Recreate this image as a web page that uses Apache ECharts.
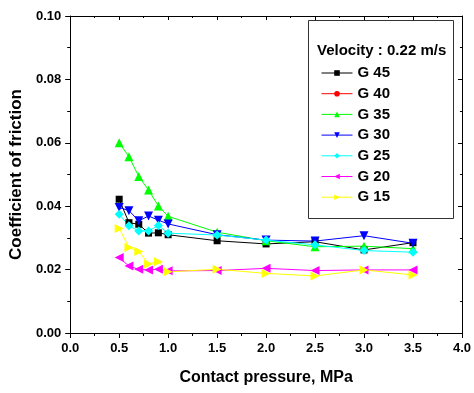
<!DOCTYPE html>
<html><head><meta charset="utf-8">
<script src="https://cdn.jsdelivr.net/npm/echarts@6/dist/echarts.min.js"></script>
<style>html,body{margin:0;padding:0;background:#fff}#c{width:474px;height:393px}</style>
</head><body><div id="c"></div>
<script>
const pressure = [0.5, 0.6, 0.7, 0.8, 0.9, 1.0, 1.5, 2.0, 2.5, 3.0, 3.5];
const g45 = [0.0422, 0.0348, 0.0343, 0.0315, 0.0316, 0.0310, 0.0291, 0.0281, 0.0288, 0.0262, 0.0285];
const g40 = [];
const g35 = [0.0600, 0.0556, 0.0494, 0.0451, 0.0401, 0.0368, 0.0318, 0.0291, 0.0272, 0.0274, 0.0266];
const g30 = [0.0396, 0.0386, 0.0354, 0.0369, 0.0356, 0.0344, 0.0310, 0.0293, 0.0290, 0.0307, 0.0283];
const g25 = [0.0375, 0.0338, 0.0322, 0.0322, 0.0339, 0.0315, 0.0309, 0.0293, 0.0278, 0.0260, 0.0255];
const g20 = [0.0238, 0.0211, 0.0201, 0.0199, 0.0201, 0.0196, 0.0197, 0.0204, 0.0197, 0.0199, 0.0199];
const g15 = [0.0330, 0.0270, 0.0257, 0.0218, 0.0225, 0.0193, 0.0201, 0.0188, 0.0180, 0.0199, 0.0183];
const xTicks = [0.0, 0.5, 1.0, 1.5, 2.0, 2.5, 3.0, 3.5, 4.0];
const yTicks = [0.00, 0.02, 0.04, 0.06, 0.08, 0.10];
const legendTitle = 'Velocity : 0.22 m/s';

const FONT = '"Liberation Sans", Arial, sans-serif';
const pair = vals => vals.map((v, i) => [pressure[i], v]);
const defs = [
  {name: 'G 45', data: g45, color: '#000000', symbol: 'rect', size: 7},
  {name: 'G 40', data: g40, color: '#ff0000', symbol: 'circle', size: 8},
  {name: 'G 35', data: g35, color: '#00ff00', symbol: 'triangle', size: 9},
  {name: 'G 30', data: g30, color: '#0000ff', symbol: 'path://M0,0 L10,0 L5,9 Z', size: 9},
  {name: 'G 25', data: g25, color: '#00ffff', symbol: 'diamond', size: 9},
  {name: 'G 20', data: g20, color: '#ff00ff', symbol: 'path://M9,0 L9,10 L0,5 Z', size: 9},
  {name: 'G 15', data: g15, color: '#ffff00', symbol: 'path://M0,0 L0,10 L9,5 Z', size: 9}
];

const chart = echarts.init(document.getElementById('c'), null, {renderer: 'canvas'});
const axisLbl = {color: '#000', fontFamily: FONT, fontWeight: 'bold', fontSize: 13};
const lineStyle = {color: '#000', width: 1};
chart.setOption({
  animation: false,
  backgroundColor: '#fff',
  grid: {left: 70, right: 11, top: 16, bottom: 60, containLabel: false},
  xAxis: [{
    type: 'value', min: 0, max: 4, interval: 0.5,
    name: 'Contact pressure, MPa', nameLocation: 'middle', nameGap: 37,
    nameTextStyle: {color: '#000', fontFamily: FONT, fontWeight: 'bold', fontSize: 16},
    axisLine: {show: true, lineStyle}, axisTick: {show: true, length: 5, lineStyle},
    minorTick: {show: true, splitNumber: 2, length: 3, lineStyle},
    splitLine: {show: false},
    axisLabel: Object.assign({}, axisLbl, {margin: 9, formatter: v => v.toFixed(1)})
  }, {
    type: 'value', min: 0, max: 4, interval: 0.5, position: 'top',
    axisLine: {show: true, onZero: false, lineStyle}, axisTick: {show: true, inside: true, length: 4, lineStyle},
    minorTick: {show: true, splitNumber: 2, length: 2, lineStyle},
    splitLine: {show: false}, axisLabel: {show: false}
  }],
  yAxis: [{
    type: 'value', min: 0, max: 0.1, interval: 0.02,
    name: 'Coefficient of friction', nameLocation: 'middle', nameGap: 45,
    nameTextStyle: {color: '#000', fontFamily: FONT, fontWeight: 'bold', fontSize: 17},
    axisLine: {show: true, lineStyle}, axisTick: {show: true, length: 5, lineStyle},
    minorTick: {show: true, splitNumber: 2, length: 3, lineStyle},
    splitLine: {show: false},
    axisLabel: Object.assign({}, axisLbl, {margin: 9, formatter: v => v.toFixed(2)})
  }, {
    type: 'value', min: 0, max: 0.1, interval: 0.02, position: 'right',
    axisLine: {show: true, onZero: false, lineStyle}, axisTick: {show: true, inside: true, length: 4, lineStyle},
    minorTick: {show: true, splitNumber: 2, length: 2, lineStyle},
    splitLine: {show: false}, axisLabel: {show: false}
  }],
  legend: {
    orient: 'vertical', left: 316, top: 60,
    itemWidth: 31, itemHeight: 7, itemGap: 4.7,
    lineStyle: {width: 1},
    textStyle: {color: '#000', fontFamily: FONT, fontWeight: 'bold', fontSize: 15, lineHeight: 16},
    data: defs.map(d => d.name)
  },
  graphic: [
    {type: 'rect', z: 10, shape: {x: 308.5, y: 20.5, width: 145, height: 198},
     style: {fill: 'none', stroke: '#333', lineWidth: 1}},
    {type: 'text', z: 11, x: 317, y: 51, style: {text: legendTitle, fill: '#000',
     font: 'bold 15px ' + FONT, textVerticalAlign: 'middle'}}
  ],
  series: defs.map(d => ({
    name: d.name, type: 'line', data: pair(d.data),
    symbol: d.symbol, symbolSize: d.size, showAllSymbol: true,
    itemStyle: {color: d.color}, lineStyle: {color: d.color, width: 1},
    emphasis: {disabled: true}
  }))
});
</script></body></html>
